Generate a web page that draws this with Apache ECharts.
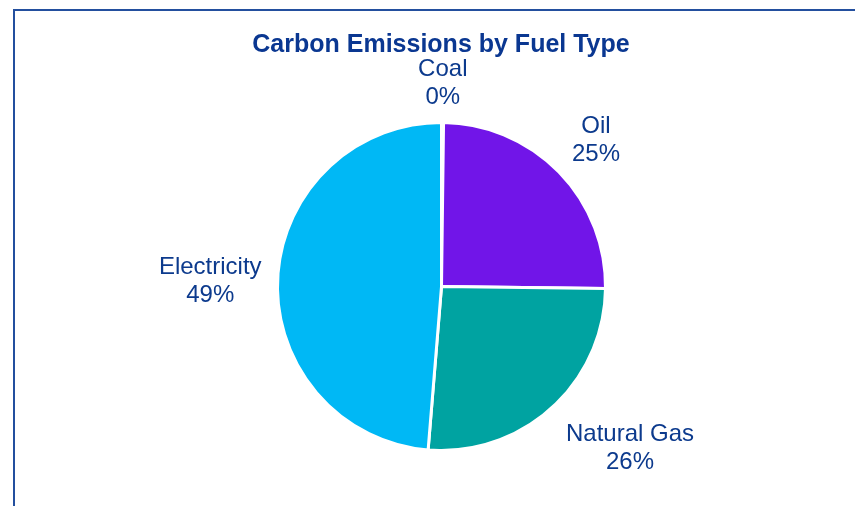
<!DOCTYPE html>
<html>
<head>
<meta charset="utf-8">
<script src="https://cdn.jsdelivr.net/npm/echarts@6/dist/echarts.min.js"></script>
<style>
  html, body { margin: 0; padding: 0; background: #ffffff; }
  #chart { width: 855px; height: 506px; }
</style>
</head>
<body>
<div id="chart"></div>
<script>
// Share of carbon emissions per fuel type (percent)
const fuelTypes = ['Coal', 'Oil', 'Natural Gas', 'Electricity'];
const emissionShares = [0.2, 25.0, 26.1, 48.7];
const sliceColors = ['#8C8C8C', '#7115E8', '#00A3A1', '#00B8F5'];

// Pie geometry (pixels)
const PIE_CX = 441.5, PIE_CY = 286.5, PIE_R = 164;
// Space between the pie rim and the nearest edge of a label block
const LABEL_GAP = 15;
// Visible glyphs sit a little above the middle of their line boxes
const LABEL_DROP = 4;
// Small rotation (degrees) applied to a label's direction
const labelAngleShift = { 'Natural Gas': -7.7 };

const TEXT_BLUE = '#0c3a8d';
const FONT = '"Liberation Sans", Arial, Helvetica, sans-serif';

const chart = echarts.init(document.getElementById('chart'), null, { renderer: 'canvas' });

chart.setOption({
  animation: false,
  backgroundColor: '#ffffff',
  title: {
    text: 'Carbon Emissions by Fuel Type',
    left: 441,
    top: 33,
    textAlign: 'center',
    padding: 0,
    textStyle: {
      color: '#0a3791',
      fontFamily: FONT,
      fontSize: 25,
      fontWeight: 'bold'
    }
  },
  graphic: [{
    type: 'rect',
    silent: true,
    z: -1,
    shape: { x: 14, y: 10, width: 900, height: 600 },
    style: { fill: 'none', stroke: '#234f9e', lineWidth: 2 }
  }],
  series: [{
    type: 'pie',
    center: [PIE_CX, PIE_CY],
    radius: PIE_R,
    startAngle: 90,
    clockwise: true,
    avoidLabelOverlap: false,
    silent: true,
    data: fuelTypes.map(function (name, i) {
      return { name: name, value: emissionShares[i], itemStyle: { color: sliceColors[i] } };
    }),
    itemStyle: { borderColor: '#ffffff', borderWidth: 3 },
    label: {
      show: true,
      position: 'outside',
      formatter: function (p) { return p.name + '\n' + Math.round(p.percent) + '%'; },
      color: TEXT_BLUE,
      fontFamily: FONT,
      fontSize: 24,
      lineHeight: 28
    },
    labelLine: { show: true, length: 10, length2: 0, lineStyle: { opacity: 0 } },
    // Place each label block just outside the rim, along the slice's mid direction
    labelLayout: function (p) {
      const pts = p.labelLinePoints;
      if (!pts) return {};
      let a = Math.atan2(pts[0][1] - PIE_CY, pts[0][0] - PIE_CX);
      a += (labelAngleShift[fuelTypes[p.dataIndex]] || 0) * Math.PI / 180;
      const ux = Math.cos(a), uy = Math.sin(a);
      const w = p.labelRect.width, h = p.labelRect.height;
      const d = PIE_R + LABEL_GAP + Math.abs(ux) * w / 2 + Math.abs(uy) * h / 2;
      return {
        x: PIE_CX + ux * d,
        y: PIE_CY + uy * d + LABEL_DROP,
        align: 'center',
        verticalAlign: 'middle'
      };
    }
  }]
});
</script>
</body>
</html>
